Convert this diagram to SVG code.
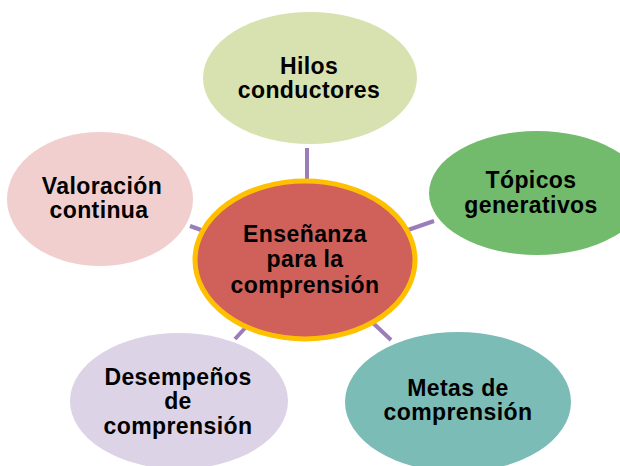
<svg xmlns="http://www.w3.org/2000/svg" width="620" height="466" viewBox="0 0 620 466">
<style>
.t{font-family:"Liberation Sans",Arial,sans-serif;font-weight:bold;font-size:23px;letter-spacing:0.4px;fill:#000;text-anchor:middle}
.ln{stroke:#9A7DB9;stroke-width:4;fill:none}
</style>
<rect width="620" height="466" fill="#fff"/>
<g id="connectors">
<line class="ln" x1="307" y1="148" x2="307" y2="181"/>
<line class="ln" x1="405" y1="231" x2="434" y2="221"/>
<line class="ln" x1="190" y1="226" x2="204" y2="231"/>
<line class="ln" x1="372" y1="322" x2="391" y2="340"/>
<line class="ln" x1="235" y1="339" x2="246" y2="327"/>
</g>
<g id="hilos">
<ellipse cx="310" cy="78" rx="107" ry="66" fill="#D7E2B0"/>
<text class="t" x="309" y="74">Hilos</text>
<text class="t" x="309" y="98">conductores</text>
</g>
<g id="topicos">
<ellipse cx="537" cy="193" rx="108" ry="62" fill="#72BB6C"/>
<text class="t" x="531" y="188">Tópicos</text>
<text class="t" x="531" y="213">generativos</text>
</g>
<g id="valoracion">
<ellipse cx="100" cy="199" rx="93" ry="67" fill="#F1CFCF"/>
<text class="t" x="102" y="194">Valoración</text>
<text class="t" x="99" y="218">continua</text>
</g>
<g id="metas">
<ellipse cx="458" cy="402" rx="113" ry="70" fill="#7BBCB6"/>
<text class="t" x="458" y="396">Metas de</text>
<text class="t" x="458" y="420">comprensión</text>
</g>
<g id="desempenos">
<ellipse cx="179" cy="401" rx="109" ry="68" fill="#DCD3E6"/>
<text class="t" x="178" y="385">Desempeños</text>
<text class="t" x="178" y="409">de</text>
<text class="t" x="178" y="434">comprensión</text>
</g>
<g id="centro">
<ellipse cx="305" cy="260" rx="110" ry="79" fill="#D0605A" stroke="#FFC000" stroke-width="5"/>
<text class="t" x="305" y="242">Enseñanza</text>
<text class="t" x="305" y="267">para la</text>
<text class="t" x="305" y="293">comprensión</text>
</g>
</svg>
